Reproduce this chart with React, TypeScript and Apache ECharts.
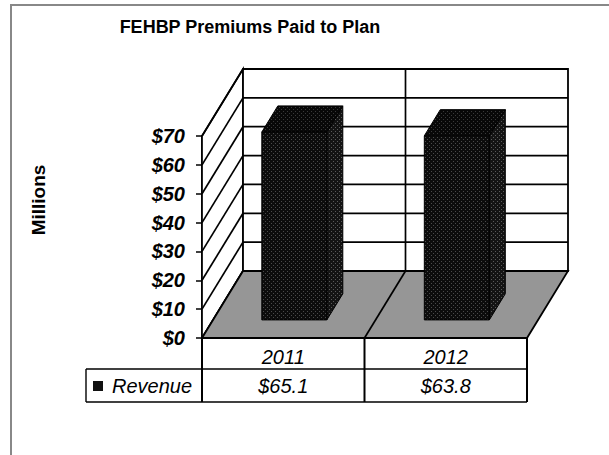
import React, { useEffect, useRef } from 'react';
import * as echarts from 'echarts';

const categories = ['2011', '2012'];
const revenue = [65.1, 63.8];
const yTicks = [0, 10, 20, 30, 40, 50, 60, 70];
const seriesName = 'Revenue';
const titleText = 'FEHBP Premiums Paid to Plan';
const yName = 'Millions';

const FONT = '"Liberation Sans", Arial, sans-serif';
const DX = 41;
const DY = -67;
const F1 = 0.27;
const F2 = 0.66;
const ROW1 = 31;
const ROW2 = 33;
const LEG_LEFT = 86;
const LW = 1.7;

function makeDots(base: string, dot: string): any {
  const c = document.createElement('canvas');
  c.width = 4;
  c.height = 4;
  const g = c.getContext('2d');
  if (!g) return base;
  g.fillStyle = base;
  g.fillRect(0, 0, 4, 4);
  g.fillStyle = dot;
  g.fillRect(1, 1, 1, 1);
  g.fillRect(3, 3, 1, 1);
  return { image: c, repeat: 'repeat' };
}

export default function App() {
  const ref = useRef<HTMLDivElement>(null);
  useEffect(() => {
    const chart = echarts.init(ref.current!, null, { renderer: 'svg' });
    const yMax = yTicks[yTicks.length - 1];
    const frontFill = makeDots('#0c0c0c', '#4a4a4a');
    const sideFill = makeDots('#141414', '#5a5a5a');
    const topFill = makeDots('#080808', '#3a3a3a');

    const line = (ax: number, ay: number, bx: number, by: number, w = LW) => ({
      type: 'line',
      shape: { x1: ax, y1: ay, x2: bx, y2: by },
      style: { stroke: '#000', lineWidth: w },
    });

    const frameItem = (params: any, api: any) => {
      if (params.dataIndex !== 0) return null;
      const band = api.size([1, 0])[0];
      const c0 = api.coord([0, 0]);
      const x0 = c0[0] - band / 2;
      const y0 = c0[1];
      const x1 = x0 + band * categories.length;
      const yT = api.coord([0, yMax])[1];
      const ch: any[] = [];
      ch.push({
        type: 'polygon',
        shape: { points: [[x0, y0], [x0, yT], [x0 + DX, yT + DY], [x0 + DX, y0 + DY]] },
        style: { fill: '#fff', stroke: '#000', lineWidth: LW },
      });
      ch.push({
        type: 'rect',
        shape: { x: x0 + DX, y: yT + DY, width: x1 - x0, height: y0 - yT },
        style: { fill: '#fff', stroke: '#000', lineWidth: 1.8 },
      });
      yTicks.forEach((v) => {
        const y = api.coord([0, v])[1];
        ch.push(line(x0 + DX, y + DY, x1 + DX, y + DY));
        ch.push(line(x0, y, x0 + DX, y + DY));
      });
      for (let i = 1; i < categories.length; i++) {
        ch.push(line(x0 + DX + i * band, yT + DY, x0 + DX + i * band, y0 + DY));
      }
      ch.push({
        type: 'polygon',
        shape: { points: [[x0, y0], [x1, y0], [x1 + DX, y0 + DY], [x0 + DX, y0 + DY]] },
        style: { fill: '#969696', stroke: '#000', lineWidth: 1.8 },
      });
      for (let i = 1; i < categories.length; i++) {
        ch.push(line(x0 + i * band, y0, x0 + DX + i * band, y0 + DY));
      }
      // data table
      for (let i = 0; i <= categories.length; i++) {
        ch.push(line(x0 + i * band, y0, x0 + i * band, y0 + ROW1 + ROW2, 2));
      }
      ch.push(line(LEG_LEFT, y0 + ROW1, x1, y0 + ROW1, 1.4));
      ch.push(line(LEG_LEFT, y0 + ROW1 + ROW2, x1, y0 + ROW1 + ROW2, 1.4));
      ch.push(line(LEG_LEFT, y0 + ROW1, LEG_LEFT, y0 + ROW1 + ROW2, 1.4));
      ch.push({
        type: 'rect',
        shape: { x: LEG_LEFT + 7, y: y0 + ROW1 + 12, width: 10, height: 10 },
        style: { fill: '#111' },
      });
      ch.push({
        type: 'text',
        style: {
          text: seriesName,
          x: LEG_LEFT + 26,
          y: y0 + ROW1 + ROW2 / 2,
          fill: '#000',
          fontSize: 20,
          fontStyle: 'italic',
          fontFamily: FONT,
          align: 'left',
          verticalAlign: 'middle',
        },
      });
      return { type: 'group', children: ch };
    };

    const barItem = (params: any, api: any) => {
      const ci = api.value(0);
      const v = api.value(1);
      const band = api.size([1, 0])[0];
      const b = api.coord([ci, 0]);
      const t = api.coord([ci, v]);
      const w = band * 0.4;
      const xl = b[0] - w / 2 + DX * F1;
      const xr = xl + w;
      const yb = b[1] + DY * F1;
      const yt = t[1] + DY * F1;
      const ddx = DX * (F2 - F1);
      const ddy = DY * (F2 - F1);
      return {
        type: 'group',
        children: [
          {
            type: 'polygon',
            shape: { points: [[xr, yb], [xr, yt], [xr + ddx, yt + ddy], [xr + ddx, yb + ddy]] },
            style: { fill: sideFill, stroke: '#000', lineWidth: 1 },
          },
          {
            type: 'polygon',
            shape: { points: [[xl, yt], [xr, yt], [xr + ddx, yt + ddy], [xl + ddx, yt + ddy]] },
            style: { fill: topFill, stroke: '#000', lineWidth: 1 },
          },
          {
            type: 'rect',
            shape: { x: xl, y: yt, width: w, height: yb - yt },
            style: { fill: frontFill, stroke: '#000', lineWidth: 1 },
          },
          {
            type: 'text',
            style: {
              text: '$' + v.toFixed(1),
              x: b[0],
              y: b[1] + ROW1 + ROW2 / 2,
              fill: '#000',
              fontSize: 20,
              fontStyle: 'italic',
              fontFamily: FONT,
              align: 'center',
              verticalAlign: 'middle',
            },
          },
        ],
      };
    };

    chart.setOption({
      animation: false,
      textStyle: { fontFamily: FONT },
      grid: { left: 202, top: 136, width: 325, height: 202, containLabel: false },
      xAxis: {
        type: 'category',
        data: categories,
        axisLine: { show: false },
        axisTick: { show: false },
        axisLabel: { color: '#000', fontSize: 20, fontStyle: 'italic', margin: 9, fontFamily: FONT },
      },
      yAxis: {
        type: 'value',
        min: 0,
        max: yMax,
        interval: 10,
        axisLine: { show: true, lineStyle: { color: '#000', width: 1.8 } },
        axisTick: { show: true, length: 6, lineStyle: { color: '#000', width: 1.5 } },
        splitLine: { show: false },
        axisLabel: {
          color: '#000',
          fontSize: 20,
          fontWeight: 'bold',
          fontStyle: 'italic',
          margin: 17,
          fontFamily: FONT,
          formatter: (v: number) => '$' + v,
        },
      },
      graphic: [
        {
          type: 'rect',
          shape: { x: 11, y: 5, width: 620, height: 470 },
          style: { fill: 'none', stroke: '#888', lineWidth: 2 },
          z: -10,
        },
        {
          type: 'text',
          x: 250,
          y: 27,
          style: {
            text: titleText,
            fill: '#000',
            fontSize: 18,
            fontWeight: 'bold',
            fontFamily: FONT,
            align: 'center',
            verticalAlign: 'middle',
          },
        },
        {
          type: 'text',
          x: 38,
          y: 200,
          rotation: Math.PI / 2,
          style: {
            text: yName,
            fill: '#000',
            fontSize: 19,
            fontWeight: 'bold',
            fontFamily: FONT,
            align: 'center',
            verticalAlign: 'middle',
          },
        },
      ],
      series: [
        {
          type: 'custom',
          name: 'frame',
          clip: false,
          silent: true,
          z: 1,
          data: [[0, 0]],
          renderItem: frameItem,
        },
        {
          type: 'custom',
          name: seriesName,
          clip: false,
          z: 5,
          data: categories.map((c, i) => [i, revenue[i]]),
          renderItem: barItem,
        },
      ],
    });
    return () => chart.dispose();
  }, []);
  return <div ref={ref} style={{ position: 'absolute', left: 0, top: 0, width: 609, height: 455 }} />;
}
